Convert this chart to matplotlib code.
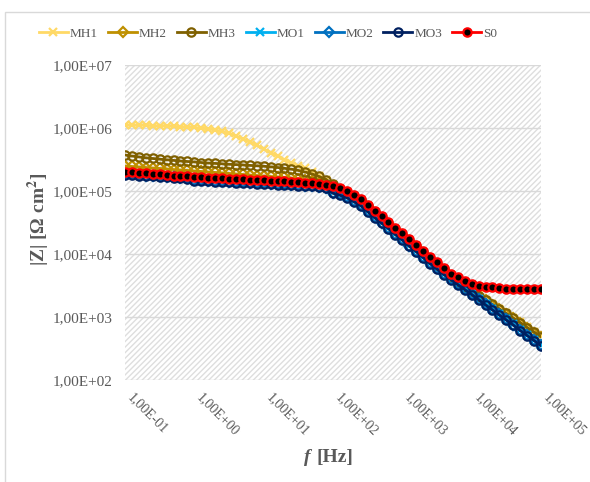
import matplotlib
matplotlib.use('Agg')
import matplotlib.pyplot as plt
import numpy as np
from matplotlib.patches import Rectangle
from matplotlib.ticker import FixedLocator, FuncFormatter, NullLocator

plt.rcParams['font.family'] = ['Liberation Serif', 'DejaVu Serif']
plt.rcParams['mathtext.fontset'] = 'stix'
plt.rcParams['hatch.color'] = '#DEDEDE'
plt.rcParams['hatch.linewidth'] = 1.0

# frequency sweep, 10 points per decade from 0.1 Hz to 100 kHz
freq = np.logspace(-1, 5, 61)

MH1 = [1.12e6, 1.12e6, 1.11e6, 1.10e6, 1.09e6, 1.08e6, 1.08e6, 1.06e6, 1.05e6, 1.04e6,
       1.02e6, 1.00e6, 9.64e5, 9.30e5, 8.80e5, 8.18e5, 7.46e5, 6.69e5, 6.00e5, 5.28e5,
       4.64e5, 4.08e5, 3.59e5, 3.16e5, 2.78e5, 2.45e5, 2.28e5, 2.00e5, 1.76e5, 1.52e5,
       1.25e5, 1.06e5, 9.64e4, 8.33e4, 7.20e4, 5.78e4, 4.64e4, 3.80e4, 3.10e4, 2.49e4,
       2.04e4, 1.64e4, 1.34e4, 1.08e4, 8.64e3, 7.07e3, 5.78e3, 4.42e3, 3.69e3, 3.07e3,
       2.61e3, 2.21e3, 1.88e3, 1.60e3, 1.36e3, 1.15e3, 973, 825, 688, 583, 494]
MH2 = [2.49e5, 2.45e5, 2.40e5, 2.36e5, 2.32e5, 2.28e5, 2.24e5, 2.19e5, 2.15e5, 2.12e5,
       2.08e5, 2.04e5, 2.00e5, 1.97e5, 1.93e5, 1.90e5, 1.86e5, 1.83e5, 1.79e5, 1.76e5,
       1.73e5, 1.70e5, 1.67e5, 1.64e5, 1.61e5, 1.55e5, 1.49e5, 1.44e5, 1.36e5, 1.29e5,
       1.10e5, 1.02e5, 9.30e4, 8.03e4, 6.94e4, 5.57e4, 4.48e4, 3.66e4, 2.99e4, 2.40e4,
       1.97e4, 1.58e4, 1.29e4, 1.04e4, 8.33e3, 6.81e3, 5.57e3, 4.31e3, 3.59e3, 2.99e3,
       2.54e3, 2.15e3, 1.83e3, 1.55e3, 1.32e3, 1.12e3, 947, 803, 669, 567, 481]
MH3 = [3.73e5, 3.59e5, 3.47e5, 3.37e5, 3.28e5, 3.20e5, 3.13e5, 3.06e5, 2.99e5, 2.94e5,
       2.89e5, 2.83e5, 2.78e5, 2.74e5, 2.70e5, 2.66e5, 2.62e5, 2.59e5, 2.55e5, 2.51e5,
       2.47e5, 2.42e5, 2.36e5, 2.29e5, 2.22e5, 2.12e5, 2.00e5, 1.86e5, 1.70e5, 1.52e5,
       1.29e5, 1.04e5, 9.46e4, 8.18e4, 7.07e4, 5.68e4, 4.56e4, 3.73e4, 3.05e4, 2.45e4,
       2.00e4, 1.61e4, 1.32e4, 1.06e4, 8.48e3, 6.94e3, 5.68e3, 4.38e3, 3.65e3, 3.04e3,
       2.58e3, 2.19e3, 1.86e3, 1.58e3, 1.34e3, 1.14e3, 963, 817, 680, 577, 489]
MO1 = [1.89e5, 1.86e5, 1.82e5, 1.79e5, 1.76e5, 1.73e5, 1.70e5, 1.66e5, 1.63e5, 1.60e5,
       1.51e5, 1.50e5, 1.48e5, 1.46e5, 1.45e5, 1.43e5, 1.41e5, 1.39e5, 1.38e5, 1.36e5,
       1.34e5, 1.33e5, 1.31e5, 1.30e5, 1.28e5, 1.27e5, 1.24e5, 1.22e5, 1.18e5, 1.14e5,
       9.55e4, 8.90e4, 8.10e4, 7.00e4, 6.05e4, 4.85e4, 3.90e4, 3.18e4, 2.61e4, 2.10e4,
       1.71e4, 1.37e4, 1.13e4, 9.02e3, 7.25e3, 5.93e3, 4.85e3, 4.04e3, 3.36e3, 2.80e3,
       2.34e3, 1.94e3, 1.59e3, 1.33e3, 1.11e3, 920, 766, 627, 522, 435, 362]
MO2 = [1.86e5, 1.83e5, 1.79e5, 1.76e5, 1.73e5, 1.70e5, 1.67e5, 1.64e5, 1.61e5, 1.58e5,
       1.49e5, 1.48e5, 1.46e5, 1.44e5, 1.43e5, 1.41e5, 1.39e5, 1.37e5, 1.36e5, 1.34e5,
       1.32e5, 1.31e5, 1.29e5, 1.28e5, 1.26e5, 1.25e5, 1.22e5, 1.20e5, 1.16e5, 1.12e5,
       9.46e4, 8.80e4, 8.03e4, 6.94e4, 6.00e4, 4.81e4, 3.87e4, 3.16e4, 2.59e4, 2.08e4,
       1.70e4, 1.36e4, 1.12e4, 8.96e3, 7.20e3, 5.89e3, 4.81e3, 4.01e3, 3.34e3, 2.78e3,
       2.32e3, 1.93e3, 1.58e3, 1.32e3, 1.10e3, 913, 760, 622, 518, 431, 359]
MO3 = [1.82e5, 1.79e5, 1.75e5, 1.72e5, 1.70e5, 1.67e5, 1.64e5, 1.61e5, 1.58e5, 1.55e5,
       1.46e5, 1.45e5, 1.43e5, 1.41e5, 1.40e5, 1.38e5, 1.36e5, 1.34e5, 1.33e5, 1.31e5,
       1.29e5, 1.28e5, 1.26e5, 1.25e5, 1.23e5, 1.22e5, 1.20e5, 1.18e5, 1.14e5, 1.10e5,
       9.20e4, 8.55e4, 7.80e4, 6.75e4, 5.85e4, 4.70e4, 3.78e4, 3.09e4, 2.53e4, 2.03e4,
       1.66e4, 1.33e4, 1.09e4, 8.75e3, 7.03e3, 5.75e3, 4.70e3, 3.92e3, 3.26e3, 2.72e3,
       2.27e3, 1.88e3, 1.55e3, 1.29e3, 1.07e3, 892, 742, 608, 506, 421, 350]
S0 = [2.00e5, 1.97e5, 1.93e5, 1.90e5, 1.86e5, 1.83e5, 1.79e5, 1.76e5, 1.73e5, 1.70e5,
      1.67e5, 1.65e5, 1.63e5, 1.61e5, 1.59e5, 1.57e5, 1.55e5, 1.53e5, 1.52e5, 1.49e5,
      1.48e5, 1.46e5, 1.44e5, 1.43e5, 1.41e5, 1.39e5, 1.36e5, 1.34e5, 1.29e5, 1.25e5,
      1.18e5, 1.10e5, 1.00e5, 8.64e4, 7.46e4, 6.00e4, 4.81e4, 3.94e4, 3.22e4, 2.59e4,
      2.12e4, 1.70e4, 1.39e4, 1.12e4, 8.96e3, 7.33e3, 6.00e3, 4.90e3, 4.24e3, 3.73e3,
      3.40e3, 3.16e3, 2.99e3, 2.94e3, 2.89e3, 2.83e3, 2.78e3, 2.78e3, 2.77e3, 2.77e3, 2.76e3]

x_ticks = [1e-1, 1e0, 1e1, 1e2, 1e3, 1e4, 1e5]
y_ticks = [1e2, 1e3, 1e4, 1e5, 1e6, 1e7]

series = [
    ('MH1', MH1, '#FFD966', 'x', '#FFD966'),
    ('MH2', MH2, '#BF9000', 'D', 'none'),
    ('MH3', MH3, '#7F6000', 'o', 'none'),
    ('MO1', MO1, '#00B0F0', 'x', '#00B0F0'),
    ('MO2', MO2, '#0070C0', 'D', 'none'),
    ('MO3', MO3, '#002060', 'o', 'none'),
    ('S0', S0, '#FF0000', 'o', 'black'),
]

W, H = 590, 482
fig = plt.figure(figsize=(W / 100, H / 100), dpi=100)
ax = fig.add_axes([125 / W, 1 - 380 / H, 416 / W, 315 / H])

ax.patch.set_facecolor('white')
ax.patch.set_hatch('//////')
ax.patch.set_edgecolor('#DEDEDE')
ax.patch.set_linewidth(0)

for name, vals, col, mk, face in series:
    ms = 5 if mk == 'D' else 6
    ax.plot(freq, vals, color=col, lw=2, marker=mk, ms=ms, mec=col,
            mfc=face, mew=1.6, label=name)

ax.set_xscale('log')
ax.set_yscale('log')
ax.set_xlim(1e-1, 1e5)
ax.set_ylim(1e2, 1e7)

fmt = FuncFormatter(lambda v, p: '1,00E%+03d' % int(round(np.log10(v))))
ax.xaxis.set_major_locator(FixedLocator(x_ticks))
ax.yaxis.set_major_locator(FixedLocator(y_ticks))
ax.xaxis.set_minor_locator(NullLocator())
ax.yaxis.set_minor_locator(NullLocator())
ax.xaxis.set_major_formatter(fmt)
ax.yaxis.set_major_formatter(fmt)

ax.yaxis.grid(True, color='#D9D9D9', lw=1)
ax.set_axisbelow(True)
for s in ax.spines.values():
    s.set_visible(False)

ax.tick_params(axis='y', length=0, pad=9, labelsize=11, labelcolor='#595959')
ax.tick_params(axis='x', length=0, pad=8, labelsize=10, labelcolor='#595959')
for lab in ax.get_xticklabels():
    lab.set_rotation(-45)
    lab.set_ha('left')
    lab.set_va('top')

fig.text(39 / W, 1 - 219 / H, '|Z| [Ω cm$^\\mathbf{2}$]', rotation=90,
         ha='center', va='center', fontsize=14, fontweight='bold', color='#595959')
fig.text(304 / W, 1 - 462 / H, 'f', ha='left', va='baseline', fontsize=14,
         fontweight='bold', style='italic', color='#595959')
fig.text(316 / W, 1 - 462 / H, '[Hz]', ha='left', va='baseline', fontsize=14,
         fontweight='bold', color='#595959')

leg = ax.legend(loc='center', bbox_to_anchor=(268 / W, 1 - 34 / H),
                bbox_transform=fig.transFigure, ncol=7, frameon=False,
                fontsize=9.5, handlelength=2.2, handletextpad=0.15,
                columnspacing=0.75, borderpad=0.2)
for t in leg.get_texts():
    t.set_color('#595959')

fig.add_artist(Rectangle((5 / W, -0.05), 1.0, (H - 12) / H + 0.05,
                         transform=fig.transFigure, fill=False,
                         edgecolor='#D9D9D9', lw=1))

fig.savefig('out.png', dpi=100)
